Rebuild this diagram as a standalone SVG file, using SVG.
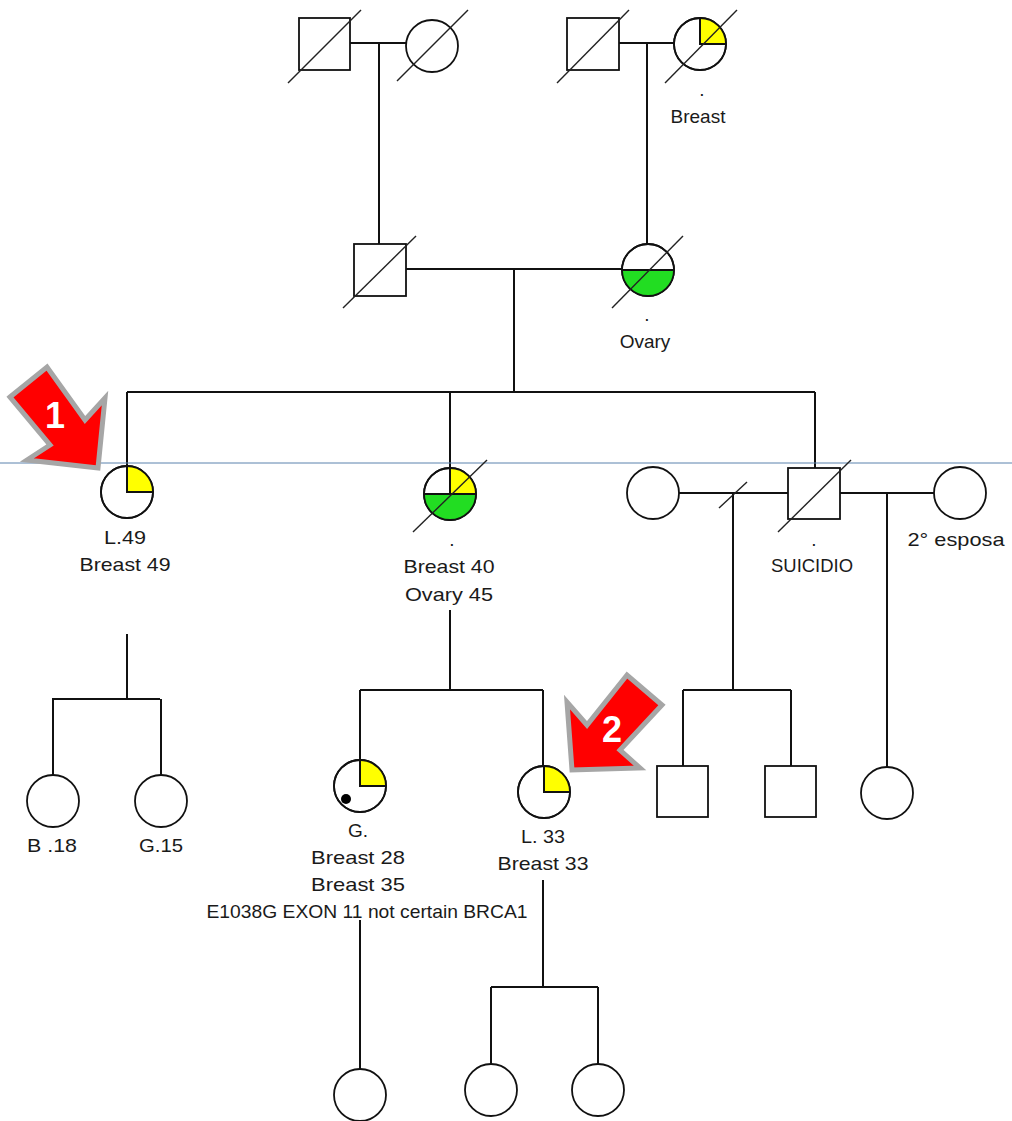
<svg xmlns="http://www.w3.org/2000/svg" width="1012" height="1121" viewBox="0 0 1012 1121">
<style>
.ln{stroke:#111;stroke-width:2;fill:none}
.sl{stroke:#222;stroke-width:1.4;fill:none}
.nd{stroke:#111;stroke-width:1.8;fill:#fff}
.yl{fill:#ffff00;stroke:none}
.gr{fill:#22dd22;stroke:none}
.t{font-family:"Liberation Sans",Arial,sans-serif;font-size:19px;fill:#1a1a1a;text-anchor:middle}
.ar{fill:#ff0000;stroke:#a6a6a6;stroke-width:5;stroke-linejoin:miter}
.an{font-family:"Liberation Sans",Arial,sans-serif;font-size:36px;font-weight:bold;fill:#fff;text-anchor:middle}
</style>
<rect width="1012" height="1121" fill="#fff"/>
<g id="connectors">
<path class="ln" d="M350,43H407M379,43V244"/>
<path class="ln" d="M619,43H674M647,43V244"/>
<path class="ln" d="M406,269H622M514,269V392"/>
<path class="ln" d="M127,392H815M127,392V466M450,392V468M815,392V468"/>
<path class="ln" d="M679,493H788M733,493V690M683,690H791M683,690V766M791,690V766"/>
<path class="sl" d="M719,508L747,482"/>
<path class="ln" d="M840,493H934M887,493V767"/>
<path class="ln" d="M127,634V699M52,699H160M53,699V775M161,699V775"/>
<path class="ln" d="M450,610V690M360,690H543M360,690V760M543,690V766"/>
<path class="ln" d="M360,920V1069"/>
<path class="ln" d="M543,880V987M491,987H598M491,987V1064M598,987V1064"/>
</g>
<line x1="0" y1="463" x2="1012" y2="463" stroke="#5b82ad" stroke-width="1"/>
<g id="gf1">
<rect class="nd" x="299" y="18" width="51" height="52"/>
<line class="sl" x1="288" y1="83" x2="361" y2="10"/>
</g>
<g id="gm1">
<circle class="nd" cx="432" cy="46" r="26"/>
<line class="sl" x1="397" y1="81" x2="468" y2="10"/>
</g>
<g id="gf2">
<rect class="nd" x="567" y="18" width="52" height="52"/>
<line class="sl" x1="557" y1="83" x2="629" y2="10"/>
</g>
<g id="gm2">
<circle class="nd" cx="700" cy="44" r="26"/>
<path class="yl" d="M700,44V18A26,26 0 0 1 726,44Z"/>
<path class="ln" d="M700,18V44H726"/>
<circle cx="700" cy="44" r="26" fill="none" stroke="#111" stroke-width="1.8"/>
<line class="sl" x1="665" y1="83" x2="737" y2="10"/>
<text class="t" x="702" y="96" font-size="10">.</text>
<text class="t" x="698" y="123">Breast</text>
</g>
<g id="father">
<rect class="nd" x="354" y="244" width="52" height="52"/>
<line class="sl" x1="343" y1="308" x2="416" y2="236"/>
</g>
<g id="mother">
<circle class="nd" cx="648" cy="270" r="26"/>
<path class="gr" d="M622,270A26,26 0 0 0 674,270Z"/>
<path class="ln" d="M622,270H674"/>
<circle cx="648" cy="270" r="26" fill="none" stroke="#111" stroke-width="1.8"/>
<line class="sl" x1="612" y1="308" x2="683" y2="236"/>
<text class="t" x="647" y="321" font-size="10">.</text>
<text class="t" x="645" y="348">Ovary</text>
</g>
<g id="L49">
<circle class="nd" cx="127" cy="492" r="26"/>
<path class="yl" d="M127,492V466A26,26 0 0 1 153,492Z"/>
<path class="ln" d="M127,466V492H153"/>
<circle cx="127" cy="492" r="26" fill="none" stroke="#111" stroke-width="1.8"/>
<text class="t" x="125" y="544" textLength="42" lengthAdjust="spacingAndGlyphs">L.49</text>
<text class="t" x="125" y="571" textLength="91" lengthAdjust="spacingAndGlyphs">Breast 49</text>
</g>
<g id="sister">
<circle class="nd" cx="450" cy="494" r="26"/>
<path class="yl" d="M450,494V468A26,26 0 0 1 476,494Z"/>
<path class="gr" d="M424,494A26,26 0 0 0 476,494Z"/>
<path class="ln" d="M450,468V494M424,494H476"/>
<circle cx="450" cy="494" r="26" fill="none" stroke="#111" stroke-width="1.8"/>
<line class="sl" x1="413" y1="532" x2="487" y2="460"/>
<text class="t" x="452" y="546" font-size="10">.</text>
<text class="t" x="449" y="573" textLength="91" lengthAdjust="spacingAndGlyphs">Breast 40</text>
<text class="t" x="449" y="601" textLength="88" lengthAdjust="spacingAndGlyphs">Ovary 45</text>
</g>
<g id="wife1">
<circle class="nd" cx="653" cy="493" r="26"/>
</g>
<g id="brother">
<rect class="nd" x="788" y="468" width="52" height="51"/>
<line class="sl" x1="778" y1="532" x2="851" y2="460"/>
<text class="t" x="814" y="546" font-size="10">.</text>
<text class="t" x="812" y="572" textLength="82" lengthAdjust="spacingAndGlyphs">SUICIDIO</text>
</g>
<g id="wife2">
<circle class="nd" cx="960" cy="493" r="26"/>
<text class="t" x="956" y="546" textLength="97" lengthAdjust="spacingAndGlyphs">2° esposa</text>
</g>
<g id="B18">
<circle class="nd" cx="53" cy="801" r="26"/>
<text class="t" x="52" y="852" textLength="50" lengthAdjust="spacingAndGlyphs">B .18</text>
</g>
<g id="G15">
<circle class="nd" cx="161" cy="801" r="26"/>
<text class="t" x="161" y="852" textLength="44" lengthAdjust="spacingAndGlyphs">G.15</text>
</g>
<g id="G">
<circle class="nd" cx="360" cy="786" r="26"/>
<path class="yl" d="M360,786V760A26,26 0 0 1 386,786Z"/>
<path class="ln" d="M360,760V786H386"/>
<circle cx="360" cy="786" r="26" fill="none" stroke="#111" stroke-width="1.8"/>
<circle cx="346" cy="799" r="5" fill="#000"/>
<text class="t" x="358" y="837">G.</text>
<text class="t" x="358" y="864" textLength="94" lengthAdjust="spacingAndGlyphs">Breast 28</text>
<text class="t" x="358" y="891" textLength="94" lengthAdjust="spacingAndGlyphs">Breast 35</text>
<text class="t" x="367" y="918" textLength="321" lengthAdjust="spacingAndGlyphs">E1038G EXON 11 not certain BRCA1</text>
</g>
<g id="L33">
<circle class="nd" cx="544" cy="792" r="26"/>
<path class="yl" d="M544,792V766A26,26 0 0 1 570,792Z"/>
<path class="ln" d="M544,766V792H570"/>
<circle cx="544" cy="792" r="26" fill="none" stroke="#111" stroke-width="1.8"/>
<text class="t" x="543" y="843" textLength="44" lengthAdjust="spacingAndGlyphs">L. 33</text>
<text class="t" x="543" y="870" textLength="91" lengthAdjust="spacingAndGlyphs">Breast 33</text>
</g>
<g id="son1"><rect class="nd" x="657" y="766" width="51" height="51"/></g>
<g id="son2"><rect class="nd" x="765" y="766" width="51" height="51"/></g>
<g id="dau2"><circle class="nd" cx="887" cy="793" r="26"/></g>
<g id="gc1"><circle class="nd" cx="360" cy="1095" r="26"/></g>
<g id="gc2"><circle class="nd" cx="491" cy="1090" r="26"/></g>
<g id="gc3"><circle class="nd" cx="598" cy="1090" r="26"/></g>
<g id="arrow1">
<polygon class="ar" points="10,397 47,367 85,420 105,398 98,468 27,460 50,445"/>
<text class="an" x="55" y="428">1</text>
</g>
<g id="arrow2">
<polygon class="ar" points="572,770 567,702 587,725 627,675 662,705 620,750 640,768"/>
<text class="an" x="612" y="742">2</text>
</g>
</svg>
